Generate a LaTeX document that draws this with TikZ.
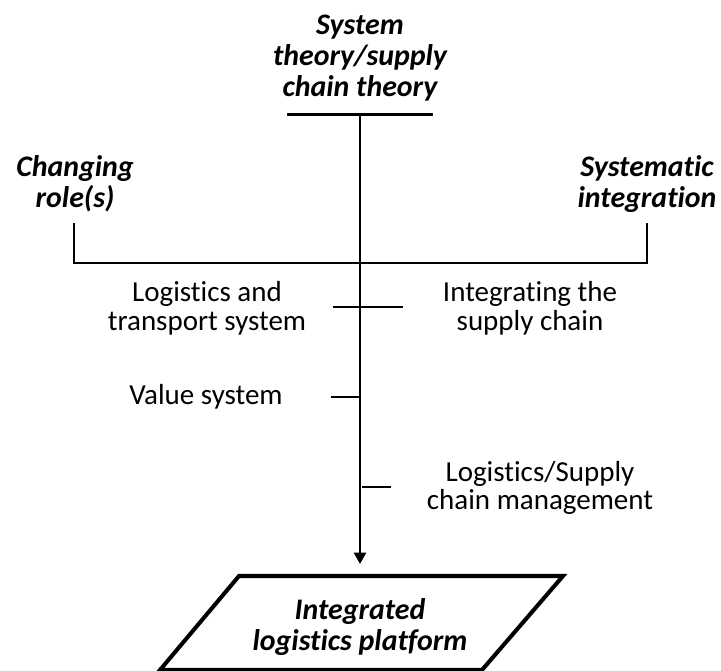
\documentclass[tikz,border=0pt]{standalone}
\usepackage{fontspec}
\setmainfont{Carlito}[Ligatures=NoCommon]
\usetikzlibrary{arrows.meta}

\begin{document}
\begin{tikzpicture}[x=0.02cm, y=-0.02cm]

	\tikzstyle{theory_node}=[font=\fontsize{17}{17.6}\selectfont\bfseries\itshape, align=center, inner sep=0pt]
	\tikzstyle{concept_node}=[font=\fontsize{16.5}{16.4}\selectfont, align=center, inner sep=0pt]
	\tikzstyle{main_line}=[line width=1.1pt]
	\tikzstyle{tick_line}=[line width=0.9pt]
	\tikzstyle{platform_shape}=[line width=2.3pt, line join=miter]

	\useasboundingbox (0,0) rectangle (721,671);

	\coordinate (bar_left) at (287,115);
	\coordinate (bar_right) at (433,115);
	\coordinate (spine_top) at (360,115);
	\coordinate (spine_joint) at (360,263);
	\coordinate (changing_end) at (74,223);
	\coordinate (systematic_end) at (647,223);
	\coordinate (arrow_tip) at (360,564);

	\coordinate (tick_1_left) at (333,307);
	\coordinate (tick_1_right) at (403,307);
	\coordinate (tick_2_left) at (331,397);
	\coordinate (tick_2_right) at (360,397);
	\coordinate (tick_3_left) at (362,487);
	\coordinate (tick_3_right) at (391,487);

	\coordinate (platform_tl) at (239,576);
	\coordinate (platform_tr) at (563,576);
	\coordinate (platform_br) at (482,670);
	\coordinate (platform_bl) at (160,670);

	\node[theory_node] at (360,58) (system_theory) {System\\theory/supply\\chain theory};
	\node[theory_node] at (75,184) (changing_roles) {Changing\\role(s)};
	\node[theory_node] at (647,184) (systematic_integration) {Systematic\\integration};

	\node[concept_node] at (207,308) (transport_system) {Logistics and\\transport system};
	\node[concept_node] at (530,308) (integrating_chain) {Integrating the\\supply chain};
	\node[concept_node] at (206,397) (value_system) {Value system};
	\node[concept_node] at (540,488) (chain_management) {Logistics/Supply\\chain management};

	\node[theory_node] at (360,627) (platform) {Integrated\\logistics platform};

	\draw[line width=1.7pt] (bar_left) -- (bar_right);
	\draw[main_line, -{Triangle[length=6.5pt, width=7pt]}] (spine_top) -- (arrow_tip);
	\draw[tick_line] (changing_end) |- (spine_joint) -| (systematic_end);

	\draw[tick_line] (tick_1_left) -- (tick_1_right);
	\draw[tick_line] (tick_2_left) -- (tick_2_right);
	\draw[tick_line] (tick_3_left) -- (tick_3_right);

	\draw[platform_shape] (platform_tl) -- (platform_tr) -- (platform_br) -- (platform_bl) -- cycle;
\end{tikzpicture}
\end{document}
